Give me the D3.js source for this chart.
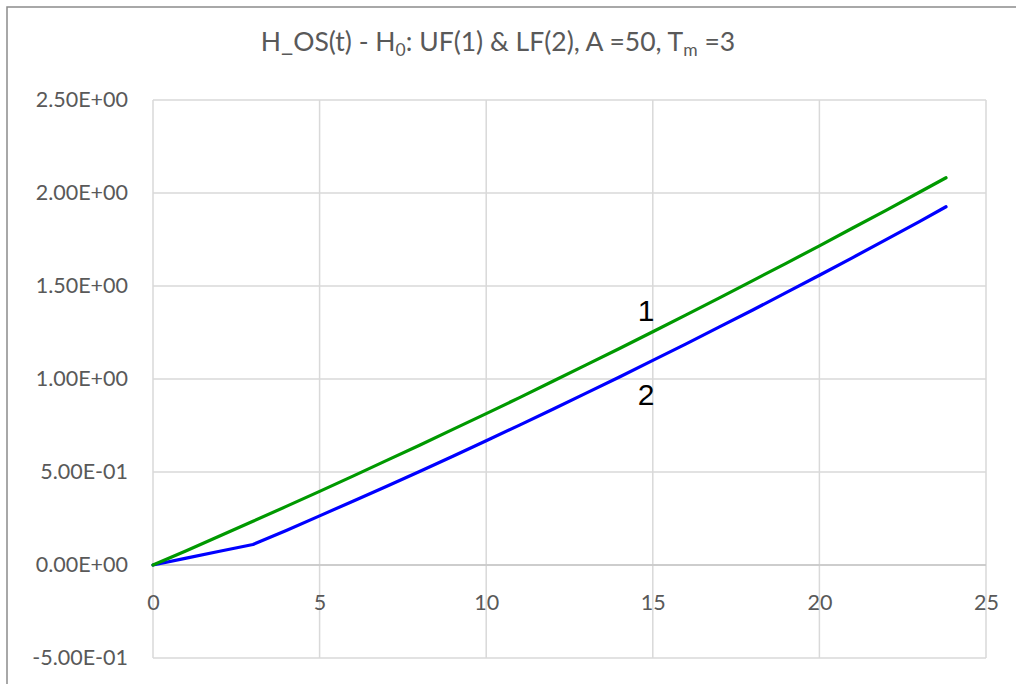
<!DOCTYPE html>
<html><head><meta charset="utf-8">
<script src="https://cdn.jsdelivr.net/npm/d3@7"></script>
<style>html,body{margin:0;padding:0;background:#fff;}</style>
</head><body>
<script>
// Data
const tValues = [0,1,2,3,4,5,6,7,8,9,10,11,12,13,14,15,16,17,18,19,20,21,22,23,23.8];
const seriesUF1 = [0,0.077,0.156,0.235,0.315,0.396,0.478,0.561,0.644,0.729,0.814,0.900,0.988,1.076,1.164,1.254,1.345,1.436,1.529,1.622,1.716,1.812,1.907,2.004,2.082];
const seriesLF2 = [0,0.037,0.074,0.110,0.186,0.264,0.343,0.422,0.503,0.585,0.668,0.752,0.837,0.924,1.011,1.100,1.189,1.280,1.371,1.464,1.558,1.653,1.749,1.846,1.926];
const xTicks = [0,5,10,15,20,25];
const yTicks = [-0.5,0,0.5,1,1.5,2,2.5];
const yTickLabels = ["-5.00E-01","0.00E+00","5.00E-01","1.00E+00","1.50E+00","2.00E+00","2.50E+00"];
const curveLabels = [{text:"1", t:14.8, v:1.31},{text:"2", t:14.8, v:0.86}];

const W = 1016, H = 684;
const svg = d3.select("body").append("svg").attr("width", W).attr("height", H);
svg.append("rect").attr("x",7).attr("y",7).attr("width",1020).attr("height",700)
  .attr("fill","#fff").attr("stroke","#8c8c8c").attr("stroke-width",1.5);

const L = 153, R = 986, T = 100, B = 658;
const x = d3.scaleLinear().domain([0,25]).range([L,R]);
const y = d3.scaleLinear().domain([-0.5,2.5]).range([B,T]);

const grid = svg.append("g");
grid.selectAll("line.h").data(yTicks).enter().append("line")
  .attr("x1",L).attr("x2",R).attr("y1",d=>y(d)).attr("y2",d=>y(d))
  .attr("stroke","#d9d9d9").attr("stroke-width",1.5);
grid.selectAll("line.v").data(xTicks).enter().append("line")
  .attr("y1",T).attr("y2",B).attr("x1",d=>x(d)).attr("x2",d=>x(d))
  .attr("stroke","#d9d9d9").attr("stroke-width",1.5);
svg.append("line").attr("x1",L).attr("x2",R).attr("y1",y(0)).attr("y2",y(0))
  .attr("stroke","#c6c6c6").attr("stroke-width",1.5);

const font = "Lato, 'Open Sans', sans-serif";
const yAxis = d3.axisLeft(y).tickValues(yTicks).tickFormat((d,i)=>yTickLabels[i]).tickSize(0).tickPadding(25);
const gy = svg.append("g").attr("transform",`translate(${L},0)`).call(yAxis);
gy.select(".domain").remove();
gy.selectAll("text").attr("font-family",font).attr("font-size",21.5).attr("fill","#595959");

const xAxis = d3.axisBottom(x).tickValues(xTicks).tickFormat(d3.format("d")).tickSize(0).tickPadding(30);
const gx = svg.append("g").attr("transform",`translate(0,${y(0)})`).call(xAxis);
gx.select(".domain").remove();
gx.selectAll("text").attr("font-family",font).attr("font-size",21.5).attr("fill","#595959");

const line = d3.line().x((d,i)=>x(tValues[i])).y(d=>y(d));
svg.append("path").datum(seriesLF2).attr("d",line).attr("fill","none")
  .attr("stroke","#0000ff").attr("stroke-width",3.2).attr("stroke-linejoin","round").attr("stroke-linecap","round");
svg.append("path").datum(seriesUF1).attr("d",line).attr("fill","none")
  .attr("stroke","#009900").attr("stroke-width",3.2).attr("stroke-linejoin","round").attr("stroke-linecap","round");

svg.selectAll("text.cl").data(curveLabels).enter().append("text")
  .attr("x",d=>x(d.t)).attr("y",d=>y(d.v)).attr("text-anchor","middle")
  .attr("font-family","'Liberation Sans', Arial, sans-serif").attr("font-size",30).attr("fill","#000")
  .text(d=>d.text);

const title = svg.append("text").attr("x",498).attr("y",51).attr("text-anchor","middle")
  .attr("font-family",font).attr("font-size",26.5).attr("fill","#595959");
title.append("tspan").text("H_OS(t) - H");
title.append("tspan").attr("font-size",17.5).attr("dy",5).text("0");
title.append("tspan").attr("dy",-5).text(": UF(1) & LF(2), A =50, T");
title.append("tspan").attr("font-size",17.5).attr("dy",5).text("m");
title.append("tspan").attr("dy",-5).text(" =3");
</script>
</body></html>
